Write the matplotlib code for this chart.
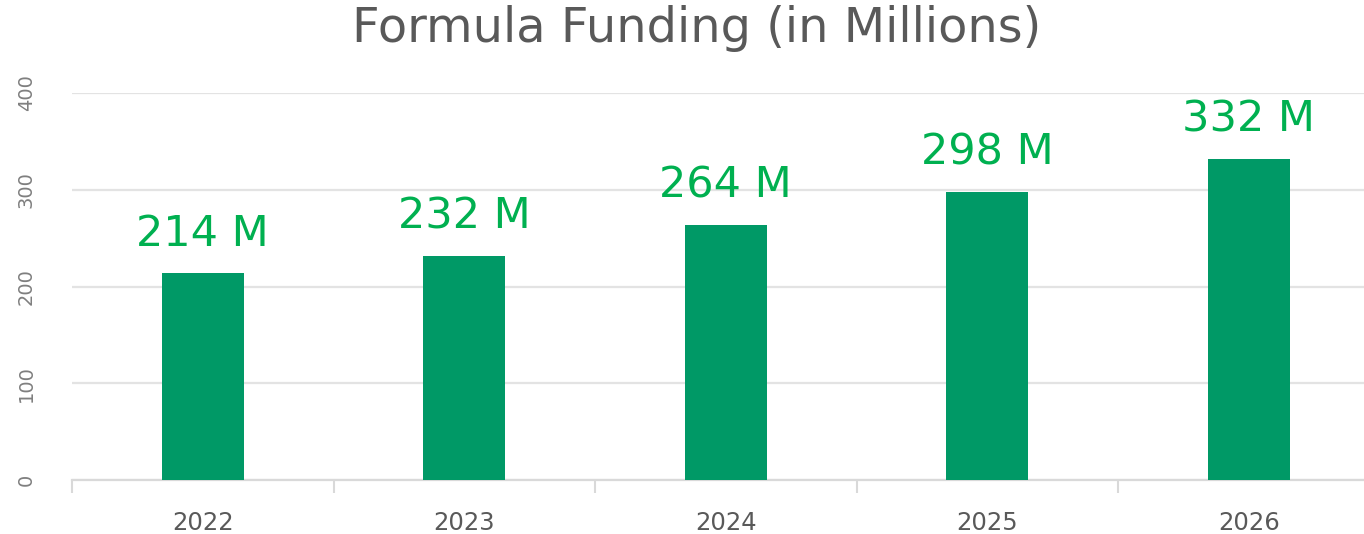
import matplotlib
matplotlib.use("Agg")
import matplotlib.pyplot as plt
import numpy as np

years = ["2022", "2023", "2024", "2025", "2026"]
funding = [214, 232, 264, 298, 332]
bar_labels = ["214 M", "232 M", "264 M", "298 M", "332 M"]
y_ticks = [0, 100, 200, 300, 400]

plt.rcParams['font.family'] = ['DejaVu Sans']

fig = plt.figure(figsize=(13.64, 5.34), dpi=100)
ax_left = 72 / 1364
ax_bottom = 54 / 534
ax_w = (1364 - 72) / 1364
ax_h = (480 - 93) / 534
ax = fig.add_axes([ax_left, ax_bottom, ax_w, ax_h])

x = np.arange(len(years))
ax.bar(x, funding, width=0.314, color="#009966", zorder=3)

for xi, v, lab in zip(x, funding, bar_labels):
    ax.text(xi, v + 28, lab, ha="center", va="baseline", fontsize=31,
            color="#00B050", zorder=4)

ax.set_yticks(y_ticks)
ax.set_yticklabels([str(t) for t in y_ticks], rotation=90, va="center",
                   fontsize=14, color="#7f7f7f")
ax.tick_params(axis="y", length=0, pad=26)
ax.grid(axis="y", color="#e3e3e3", linewidth=1.6, zorder=0)

ax.set_xticks(x)
ax.set_xticklabels(years, fontsize=17.5, color="#595959")
ax.set_xticks(np.arange(-0.5, 5.0, 1.0), minor=True)
ax.tick_params(axis="x", which="major", length=0, pad=22)
ax.tick_params(axis="x", which="minor", length=9, color="#d9d9d9", width=1.5)

ax.set_ylim(0, 400)
ax.set_xlim(-0.5, (1364 - 72) / 261.5 - 0.5)

for s in ["top", "right", "left"]:
    ax.spines[s].set_visible(False)
ax.spines["bottom"].set_color("#d9d9d9")
ax.spines["bottom"].set_linewidth(1.6)

fig.text(697 / 1364, 1 - 29 / 534, "Formula Funding (in Millions)", ha="center",
         va="center", fontsize=34.5, color="#595959")

fig.savefig("out.png", dpi=100)
